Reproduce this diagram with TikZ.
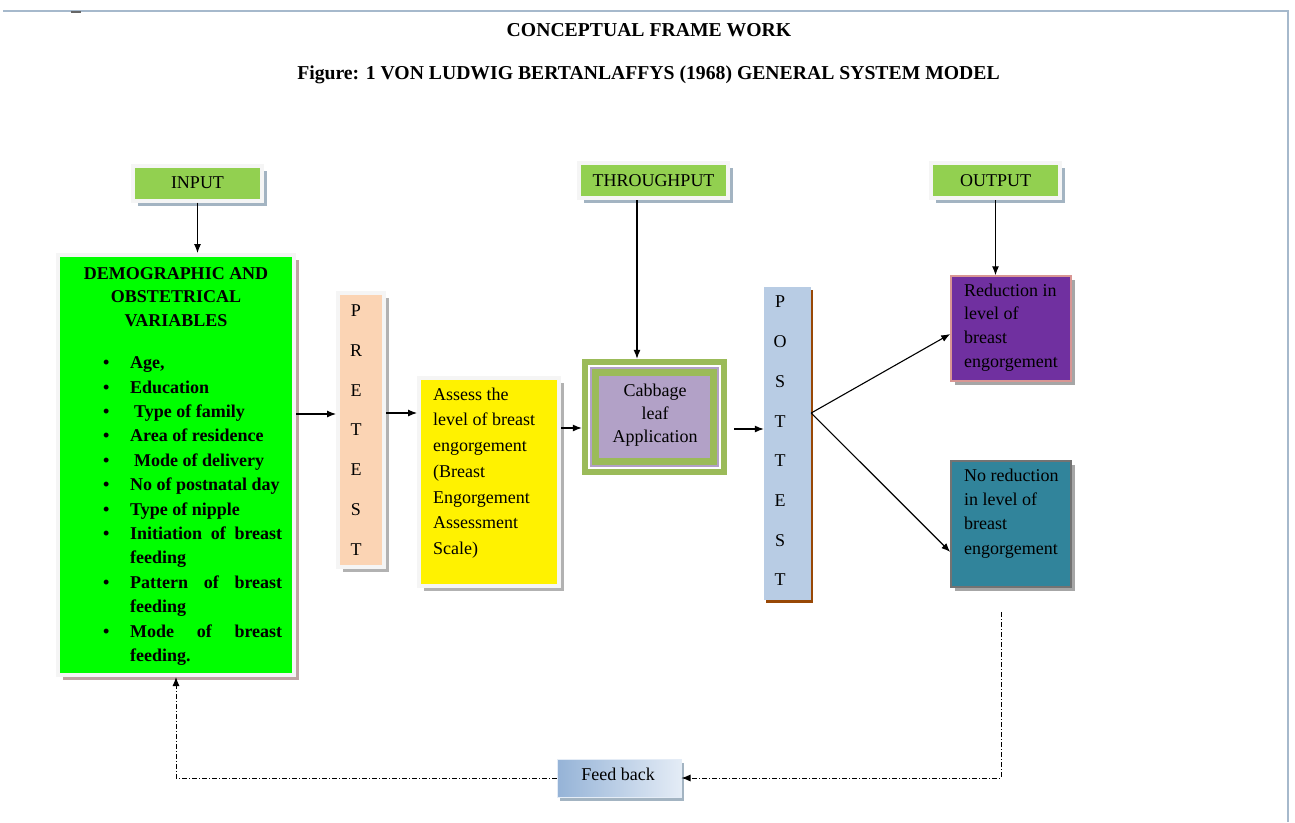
\documentclass[tikz,border=0pt]{standalone}
\usepackage{fontspec}
\setmainfont{Liberation Serif}
\usetikzlibrary{shadows,arrows.meta}

\definecolor{labelgreen}{HTML}{92D050}
\definecolor{demogreen}{HTML}{00FF00}
\definecolor{peach}{HTML}{FBD4B4}
\definecolor{olivegreen}{HTML}{9BBB59}
\definecolor{lavender}{HTML}{B2A1C7}
\definecolor{postblue}{HTML}{B8CCE4}
\definecolor{postbrown}{HTML}{984806}
\definecolor{reductpurple}{HTML}{7030A0}
\definecolor{reductpink}{HTML}{D99694}
\definecolor{noreductteal}{HTML}{31849B}
\definecolor{fbdark}{HTML}{95B3D7}
\definecolor{fblight}{HTML}{E4ECF6}
\definecolor{pageline}{HTML}{A6B9CC}
\definecolor{blueshadow}{HTML}{A3B4C2}
\definecolor{pinkshadow}{HTML}{BFA3A3}

% bullet item with hanging indent
\newcommand{\bitem}[1]{\par\noindent\hangindent=27pt\hangafter=1\makebox[27pt][l]{\textbullet}#1\par}

\tikzset{
  titletxt/.style={font=\bfseries\fontsize{19.7}{23}\selectfont, inner sep=0pt},
  txt/.style={font=\fontsize{18}{23}\selectfont, inner sep=0pt},
  framed/.style={draw=black!4, line width=4pt,
    drop shadow={shadow xshift=5pt, shadow yshift=-5pt, fill=#1, opacity=1}},
  labelbox/.style={framed=blueshadow, fill=labelgreen, minimum height=35pt,
    inner sep=0pt, font=\fontsize{18}{22}\selectfont},
  resultbox/.style={line width=1.5pt, minimum width=120pt,
    drop shadow={shadow xshift=4pt, shadow yshift=-4pt, fill=black!35, opacity=1}},
  link/.style={->, line width=1.1pt},
  feedline/.style={->, line width=0.9pt, dash pattern=on 5pt off 2pt on 1pt off 2pt}
}

\begin{document}
\begin{tikzpicture}[x=1pt, y=-1pt, >={Latex[length=9pt,width=7pt]}]
\useasboundingbox (0,0) rectangle (1295,822);
% page edge
\draw[pageline, line width=1.5pt] (3,11) -- (1288,11) -- (1288,822);
\draw[black!60, line width=2pt] (71,12) -- (81,12);

% headings
\node[titletxt] (title) at (649,30) {CONCEPTUAL FRAME WORK};
\node[titletxt] (subtitle) at (648.5,75) {Figure: 1 VON LUDWIG BERTANLAFFYS (1968) GENERAL SYSTEM MODEL};

% system labels
\node[labelbox, minimum width=129pt] (input) at (197.5,183) {INPUT};
\node[labelbox, minimum width=149pt] (through) at (653.5,180.5) {THROUGHPUT};
\node[labelbox, minimum width=129pt] (output) at (995.5,180.5) {OUTPUT};

% input variables
\node[framed=pinkshadow, fill=demogreen, minimum width=236pt, minimum height=420pt] (demo) at (176,465) {};
\node[txt, font=\bfseries\fontsize{18}{23.5}\selectfont, align=center] (demohead) at (176,297)
  {DEMOGRAPHIC AND\\OBSTETRICAL\\VARIABLES};
\node[txt, font=\bfseries\fontsize{18}{24.4}\selectfont, text width=179pt, align=justify, anchor=north west] (demolist) at (103,344)
  {\bitem{Age,}\bitem{Education}\bitem{\hspace*{4pt}Type of family}\bitem{Area of residence}%
   \bitem{\hspace*{4pt}Mode of delivery}\bitem{No of postnatal day}\bitem{Type of nipple}%
   \bitem{Initiation of breast feeding}\bitem{Pattern of breast feeding}\bitem{Mode of breast feeding.}};

% pretest
\node[framed=black!30, fill=peach, minimum width=46pt, minimum height=274pt] (pretest) at (361,430) {};
\node[txt, font=\fontsize{18}{39.7}\selectfont, align=center] (pretxt) at (356,430) {P\\R\\E\\T\\E\\S\\T};

% assessment
\node[framed=black!30, fill=yellow, minimum width=140pt, minimum height=208pt] (yellow) at (489,482) {};
\node[txt, font=\fontsize{18}{25.7}\selectfont, align=left, anchor=west] (yellowtxt) at (433,473)
  {Assess the\\level of breast\\engorgement\\(Breast\\Engorgement\\Assessment\\Scale)};

% throughput
\node[fill=olivegreen, minimum width=145pt, minimum height=116pt, inner sep=0pt] (cabbage) at (654.5,417) {};
\fill[white] ([shift={(6,6)}]cabbage.north west) rectangle ([shift={(-6,-6)}]cabbage.south east);
\fill[lavender] ([shift={(8,8)}]cabbage.north west) rectangle ([shift={(-8,-8)}]cabbage.south east);
\fill[olivegreen] ([shift={(10,10)}]cabbage.north west) rectangle ([shift={(-10,-10)}]cabbage.south east);
\fill[lavender] ([shift={(17,17)}]cabbage.north west) rectangle ([shift={(-17,-17)}]cabbage.south east);
\node[txt, align=center] (cabbagetxt) at (655,415) {Cabbage\\leaf\\Application};

% posttest
\node[fill=postblue, minimum width=47pt, minimum height=313pt,
  drop shadow={shadow xshift=2pt, shadow yshift=-3pt, fill=postbrown, opacity=1}] (posttest) at (787.5,443.5) {};
\node[txt, font=\fontsize{18}{39.7}\selectfont, align=center] (posttxt) at (780,441) {P\\O\\S\\T\\T\\E\\S\\T};

% outputs
\node[resultbox, draw=reductpink, fill=reductpurple, minimum height=105pt] (reduct) at (1011,328.5) {};
\node[txt, font=\fontsize{18}{23.7}\selectfont, align=left, anchor=west] (reducttxt) at (964,327.5)
  {Reduction in\\level of\\breast\\engorgement};
\node[resultbox, draw=black!55, fill=noreductteal, minimum height=126pt] (noreduct) at (1011,524) {};
\node[txt, font=\fontsize{18}{24.3}\selectfont, align=left, anchor=west] (noreducttxt) at (964,513.5)
  {No reduction\\in level of\\breast\\engorgement};

% feedback
\node[draw=fblight, line width=1pt, left color=fbdark, right color=fblight,
  minimum width=124pt, minimum height=38pt, inner sep=0pt,
  drop shadow={shadow xshift=3pt, shadow yshift=-4pt, fill=blueshadow, opacity=1}] (feedback) at (619,778) {};
\node[txt] (fbtxt) at (618,774) {Feed back};

% connectors
\coordinate (thrufoot) at ([xshift=-16.5pt]through.south);
\draw[link] (input.south) -- (input.south |- demo.north);
\draw[link] (thrufoot) -- (thrufoot |- cabbage.north);
\draw[link] (output.south) -- (output.south |- reduct.north);
\draw[link] (demo.east |- 0,414) -- (pretest.west |- 0,414);
\draw[link] (pretest.east |- 0,413) -- (yellow.west |- 0,413);
\draw[link] (yellow.east |- 0,428) -- (cabbage.west |- 0,428);
\draw[link, shorten <=7pt] (cabbage.east |- 0,429) -- (posttest.west |- 0,429);
\draw[link] (posttest.east |- 0,413) -- ([yshift=-5.5pt]reduct.west);
\draw[link] (posttest.east |- 0,413) -- ([yshift=-28pt]noreduct.west);

\coordinate (fbstart) at (1001,612);
\draw[feedline] (fbstart) |- (feedback.east);
\draw[feedline] (feedback.west) -| (demo.south);
\end{tikzpicture}
\end{document}
